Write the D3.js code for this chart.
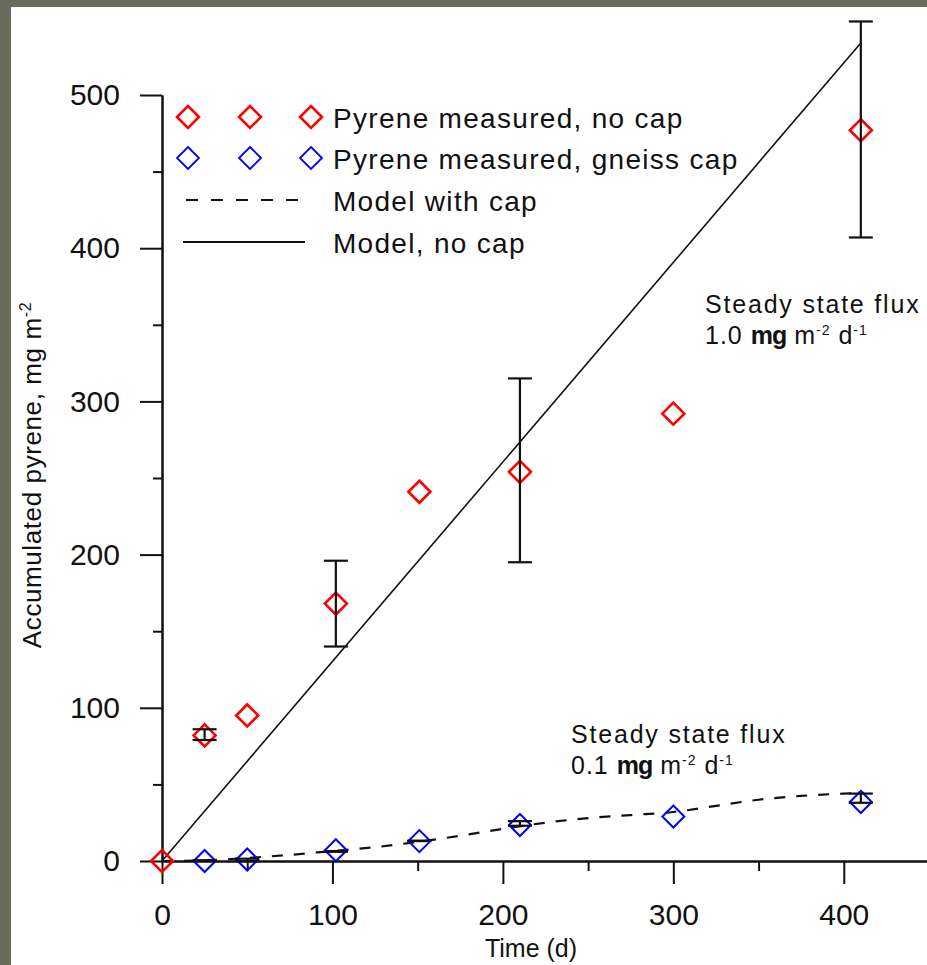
<!DOCTYPE html>
<html>
<head>
<meta charset="utf-8">
<script src="https://cdn.jsdelivr.net/npm/d3@7"></script>
<style>
  html, body { margin: 0; padding: 0; background: #6b6b5d; }
  svg { display: block; }
  text { font-family: "Liberation Sans", Arial, sans-serif; fill: #111; }
</style>
</head>
<body>
<svg id="chart" width="927" height="965"></svg>
<script>
// measured pyrene, no cap (time in days, mg m-2)
const noCapTime = [0, 25, 50, 102, 151, 210, 300, 410];
const noCapValue = [0, 82, 95, 168, 241, 254, 292, 477];
// error bars for the no-cap series [low, high]
const noCapErrTime = [25, 102, 210, 410];
const noCapErrLow = [79, 140, 195, 407];
const noCapErrHigh = [86, 196, 315, 548];

// measured pyrene, gneiss cap
const capTime = [25, 50, 102, 151, 210, 300, 410];
const capValue = [0, 1, 7, 13, 23.5, 29, 38.5];
const capErrTime = [25, 50, 102, 151, 210, 410];
const capErrLow = [0, 0, 6, 13, 23, 38];
const capErrHigh = [0.5, 1.5, 6.5, 13.3, 26, 44];

// model curves
const modelCapTime = [0, 25, 50, 75, 100, 125, 150, 175, 200, 225, 250, 275, 300, 325, 350, 375, 400, 412];
const modelCapValue = [0, 0.4, 2, 4, 6.5, 9, 12.5, 16.5, 21, 25, 28, 30, 32, 36, 40, 42.5, 44, 44.5];
const modelNoCapTime = [0, 410];
const modelNoCapValue = [0, 534];

const xMajor = [0, 100, 200, 300, 400];
const xMinor = [50, 150, 250, 350, 450];
const yMajor = [0, 100, 200, 300, 400, 500];
const yMinor = [50, 150, 250, 350, 450];

const svg = d3.select('#chart');

svg.append('rect')
  .attr('x', 11).attr('y', 7)
  .attr('width', 927 - 11).attr('height', 965 - 7)
  .attr('fill', '#fff');

const x = d3.scaleLinear().domain([0, 450]).range([162, 929]);
const y = d3.scaleLinear().domain([0, 500]).range([861, 95]);

function styleAxis(g) {
  g.select('.domain').attr('stroke', '#111').attr('stroke-width', 2);
  g.selectAll('.tick line').attr('stroke', '#111').attr('stroke-width', 2);
  g.selectAll('.tick text')
    .attr('font-size', 30)
    .attr('font-family', '"Liberation Sans", Arial, sans-serif')
    .attr('fill', '#111');
}

// minor ticks first, majors on top
svg.append('g')
  .attr('transform', `translate(0,${y(0)})`)
  .call(d3.axisBottom(x).tickValues(xMinor).tickSize(10).tickSizeOuter(0).tickFormat(''))
  .call(styleAxis);
svg.append('g')
  .attr('transform', `translate(${x(0)},0)`)
  .call(d3.axisLeft(y).tickValues(yMinor).tickSize(9).tickSizeOuter(0).tickFormat(''))
  .call(styleAxis);

svg.append('g')
  .attr('transform', `translate(0,${y(0)})`)
  .call(d3.axisBottom(x).tickValues(xMajor).tickSize(23).tickSizeOuter(0).tickPadding(20))
  .call(styleAxis);
svg.append('g')
  .attr('transform', `translate(${x(0)},0)`)
  .call(d3.axisLeft(y).tickValues(yMajor).tickSize(22).tickSizeOuter(0).tickPadding(20))
  .call(styleAxis);

// axis titles
svg.append('text')
  .attr('x', 531).attr('y', 957)
  .attr('text-anchor', 'middle')
  .attr('font-size', 25)
  .text('Time (d)');

const yTitle = svg.append('text')
  .attr('transform', 'translate(41,475) rotate(-90)')
  .attr('text-anchor', 'middle')
  .attr('font-size', 26)
  .attr('letter-spacing', 0.6);
yTitle.append('tspan').text('Accumulated pyrene, mg m');
yTitle.append('tspan').attr('font-size', 16).attr('dy', -10).text('-2');

// model lines
const line = d3.line().x((d) => x(d[0])).y((d) => y(d[1]));

svg.append('path')
  .datum(d3.zip(modelNoCapTime, modelNoCapValue))
  .attr('d', line)
  .attr('fill', 'none')
  .attr('stroke', '#111')
  .attr('stroke-width', 1.6);

svg.append('path')
  .datum(d3.zip(modelCapTime, modelCapValue))
  .attr('d', line.curve(d3.curveMonotoneX))
  .attr('fill', 'none')
  .attr('stroke', '#111')
  .attr('stroke-width', 2.2)
  .attr('stroke-dasharray', '11,11');

// diamonds
const diamond = (cx, cy, r) => `M${cx},${cy - r}L${cx + r},${cy}L${cx},${cy + r}L${cx - r},${cy}Z`;

function drawDiamonds(times, values, color, width) {
  svg.append('g')
    .selectAll('path')
    .data(d3.zip(times, values))
    .join('path')
    .attr('d', (d) => diamond(x(d[0]), y(d[1]), 11))
    .attr('fill', 'none')
    .attr('stroke', color)
    .attr('stroke-width', width);
}

function drawErrors(times, low, high) {
  const g = svg.append('g').attr('stroke', '#111').attr('stroke-width', 2.2);
  const rows = times.map((t, i) => ({ t, lo: low[i], hi: high[i] }));
  g.selectAll('line.v').data(rows).join('line')
    .attr('x1', (d) => x(d.t)).attr('x2', (d) => x(d.t))
    .attr('y1', (d) => y(d.lo)).attr('y2', (d) => y(d.hi));
  ['lo', 'hi'].forEach((k) => {
    g.selectAll(`line.${k}`).data(rows).join('line')
      .attr('class', k)
      .attr('x1', (d) => x(d.t) - 12).attr('x2', (d) => x(d.t) + 12)
      .attr('y1', (d) => y(d[k])).attr('y2', (d) => y(d[k]));
  });
}

drawDiamonds(capTime, capValue, '#0000ff', 2);
drawDiamonds(noCapTime, noCapValue, '#ff0000', 2.6);
drawErrors(noCapErrTime, noCapErrLow, noCapErrHigh);
drawErrors(capErrTime, capErrLow, capErrHigh);

// legend
const legend = svg.append('g');
const legendRows = [
  { label: 'Pyrene measured, no cap', y: 117 },
  { label: 'Pyrene measured, gneiss cap', y: 158 },
  { label: 'Model with cap', y: 200 },
  { label: 'Model, no cap', y: 242 },
];
[188, 250, 311].forEach((cx) => {
  legend.append('path').attr('d', diamond(cx, 117, 11))
    .attr('fill', 'none').attr('stroke', '#ff0000').attr('stroke-width', 2.6);
  legend.append('path').attr('d', diamond(cx, 158, 11))
    .attr('fill', 'none').attr('stroke', '#0000ff').attr('stroke-width', 1.8);
});
legend.append('line')
  .attr('x1', 186).attr('x2', 304).attr('y1', 200).attr('y2', 200)
  .attr('stroke', '#111').attr('stroke-width', 2.2).attr('stroke-dasharray', '12,13');
legend.append('line')
  .attr('x1', 183).attr('x2', 305).attr('y1', 242).attr('y2', 242)
  .attr('stroke', '#111').attr('stroke-width', 2.2);
legend.selectAll('text')
  .data(legendRows)
  .join('text')
  .attr('x', 333)
  .attr('y', (d) => d.y + 11)
  .attr('font-size', 28)
  .attr('letter-spacing', 1.3)
  .text((d) => d.label);

// steady-state annotations
function fluxNote(px, py, rate) {
  const g = svg.append('g').attr('font-size', 25);
  g.append('text').attr('x', px).attr('y', py).attr('letter-spacing', 1.8).text('Steady state flux');
  const t = g.append('text').attr('x', px).attr('y', py + 31).attr('letter-spacing', 1);
  t.append('tspan').text(`${rate} `);
  t.append('tspan').attr('font-weight', 'bold').attr('letter-spacing', -1).text('mg');
  t.append('tspan').text(' m');
  t.append('tspan').attr('font-size', 14).attr('dy', -9).text('-2');
  t.append('tspan').attr('dy', 9).text(' d');
  t.append('tspan').attr('font-size', 14).attr('dy', -9).text('-1');
}
fluxNote(705, 313, '1.0');
fluxNote(571, 743, '0.1');
</script>
</body>
</html>
